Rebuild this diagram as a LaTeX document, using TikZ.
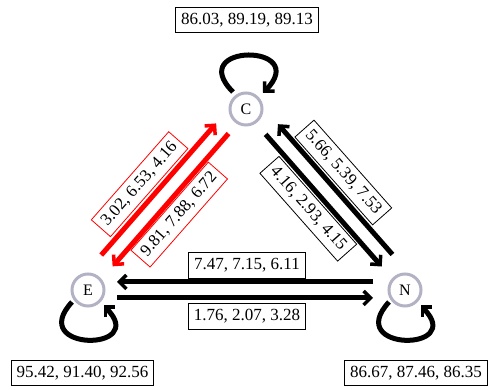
\documentclass[tikz,border=0pt]{standalone}
\usepackage{fontspec}
\setmainfont{Liberation Serif}
\usetikzlibrary{calc,arrows.meta}
\definecolor{nodegray}{RGB}{178,178,196}
\begin{document}
\begin{tikzpicture}[x=1pt,y=1pt,
  state/.style={circle, draw=nodegray, line width=3pt, minimum size=32pt, inner sep=0pt, font=\fontsize{16}{18}\selectfont},
  lbl/.style={draw, line width=0.8pt, inner xsep=5.5pt, inner ysep=5pt, text height=12pt, text depth=3.5pt, font=\fontsize{17}{20}\selectfont},
  redlbl/.style={lbl, draw=red},
  arr/.style={line width=5pt, -{Straight Barb[length=7pt,width=14pt,line width'=3.5pt]}},
  redarr/.style={arr, draw=red},
]
\useasboundingbox (0,0) rectangle (490,390);
\node[state] (C) at (246,281) {C};
\node[state] (E) at (88,100) {E};
\node[state] (N) at (405,100) {N};

% E <-> C (red)
\draw[redarr] ($(E)!35pt!(C)!13pt!90:(C)$) -- ($(C)!30.5pt!(E)!13pt!-90:(E)$);
\draw[redarr] ($(C)!30pt!(E)!3pt!90:(E)$) -- ($(E)!34pt!(C)!3pt!-90:(C)$);
% C <-> N
\draw[arr] ($(C)!32pt!(N)!2pt!-90:(N)$) -- ($(N)!33pt!(C)!2pt!90:(C)$);
\draw[arr] ($(N)!35pt!(C)!14pt!-90:(C)$) -- ($(C)!32.5pt!(N)!14pt!90:(N)$);
% N <-> E
\draw[arr] ($(N)!32pt!(E)!8pt!-90:(E)$) -- ($(E)!29pt!(N)!8pt!90:(N)$);
\draw[arr] ($(E)!29pt!(N)!8pt!-90:(N)$) -- ($(N)!32pt!(E)!8pt!90:(E)$);

% self loops
\draw[arr] ($(C)+(-13,17)$) .. controls ($(C)+(-62,66)$) and ($(C)+(66,66)$) .. ($(C)+(17,16)$);
\draw[arr] ($(E)+(-16,-12)$) .. controls ($(E)+(-62,-62)$) and ($(E)+(62,-62)$) .. ($(E)+(15.5,-15.5)$);
\draw[arr] ($(N)+(-16,-12)$) .. controls ($(N)+(-62,-62)$) and ($(N)+(62,-62)$) .. ($(N)+(15.5,-15.5)$);

% labels
\node[lbl] (lc) at (247,370) {86.03, 89.19, 89.13};
\node[lbl] (le) at (82.5,17) {95.42, 91.40, 92.56};
\node[lbl] (ln) at (416,17) {86.67, 87.46, 86.35};
\node[lbl] (lne) at (247,124.5) {7.47, 7.15, 6.11};
\node[lbl] (len) at (247,73.5) {1.76, 2.07, 3.28};
\node[redlbl, rotate=48.7] (lec) at (139.6,205.8) {3.02, 6.53, 4.16};
\node[redlbl, rotate=48.7] (lce) at (179.2,175.4) {9.81, 7.88, 6.72};
\node[lbl, rotate=-48.5] (lnc) at (343.3,217.5) {5.66, 5.39, 7.53};
\node[lbl, rotate=-48.5] (lcn) at (308.3,181.25) {4.16, 2.93, 4.15};
\end{tikzpicture}
\end{document}
